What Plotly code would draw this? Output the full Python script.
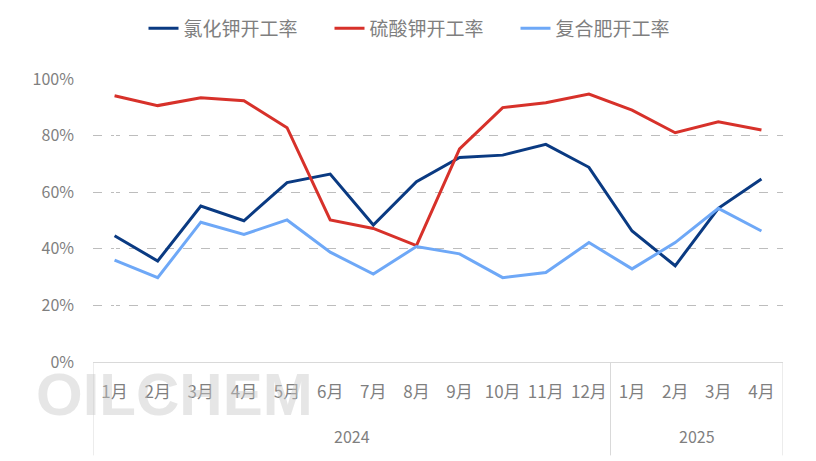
import plotly.graph_objects as go

years = ["2024", "2025"]
year_counts = [12, 4]
months = ["1月", "2月", "3月", "4月", "5月", "6月", "7月", "8月", "9月", "10月", "11月", "12月",
          "1月", "2月", "3月", "4月"]

kcl = [44.6, 35.7, 55.1, 49.9, 63.4, 66.4, 48.4, 63.7, 72.3, 73.1, 76.9, 68.8, 46.3, 34.0, 54.3, 64.7]
sop = [94.1, 90.6, 93.4, 92.3, 82.8, 50.2, 47.2, 41.1, 75.3, 89.9, 91.6, 94.7, 89.0, 81.0, 84.9, 82.0]
npk = [36.0, 29.8, 49.4, 45.1, 50.2, 38.8, 31.1, 40.8, 38.2, 29.8, 31.6, 42.2, 32.9, 42.2, 54.3, 46.3]

names = ["氯化钾开工率", "硫酸钾开工率", "复合肥开工率"]
colors = ["#0A3A82", "#D7312A", "#6EA8F7"]

font = "Noto Sans CJK SC"
idx = list(range(len(months)))

fig = go.Figure()
for name, vals, c in zip(names, [kcl, sop, npk], colors):
    fig.add_trace(go.Scatter(
        x=idx, y=[v / 100 for v in vals], name=name, mode="lines",
        line=dict(color=c, width=3)))

# watermark
fig.add_annotation(text="<b>OILCHEM</b>", xref="paper", yref="paper", x=-0.085, y=0.01,
                   xanchor="left", yanchor="top", showarrow=False,
                   font=dict(family="Liberation Sans", size=60,
                             color="rgba(200,200,200,0.45)"))

# year group labels and dividers
start = -0.5
fig.add_shape(type="line", xref="x", yref="paper", x0=start, x1=start, y0=0, y1=-0.33,
              line=dict(color="#D9D9D9", width=1))
for yr, n in zip(years, year_counts):
    end = start + n
    fig.add_annotation(text=yr, xref="x", yref="paper", x=(start + end) / 2, y=-0.26,
                       xanchor="center", yanchor="middle", showarrow=False,
                       font=dict(family=font, size=16, color="#7F7F7F"))
    fig.add_shape(type="line", xref="x", yref="paper", x0=end, x1=end, y0=0, y1=-0.33,
                  line=dict(color="#D9D9D9", width=1))
    start = end

fig.update_layout(
    width=808, height=453,
    margin=dict(l=85, r=33, t=71, b=99),
    paper_bgcolor="white", plot_bgcolor="white",
    font=dict(family=font, size=16, color="#7F7F7F"),
    showlegend=True,
    legend=dict(orientation="h", x=0.513, xanchor="center", xref="container",
                y=0.955, yanchor="middle", yref="container",
                font=dict(size=19, color="#7F7F7F"),
                entrywidth=141, entrywidthmode="pixels"),
)
fig.update_yaxes(range=[0, 1], tickformat=".0%", dtick=0.2, showgrid=True,
                 gridcolor="#BDBDBD", griddash="dash", gridwidth=1, zeroline=False,
                 ticks="", ticklabelstandoff=18, automargin=False,
                 tickfont=dict(size=16, color="#7F7F7F"))
fig.update_xaxes(range=[-0.5, len(months) - 0.5], tickmode="array", tickvals=idx, ticktext=months,
                 showgrid=False, showline=True, linecolor="#D9D9D9", linewidth=1,
                 ticks="", ticklabelstandoff=15, automargin=False,
                 tickfont=dict(size=17, color="#7F7F7F"))

fig.write_html("out.html")
